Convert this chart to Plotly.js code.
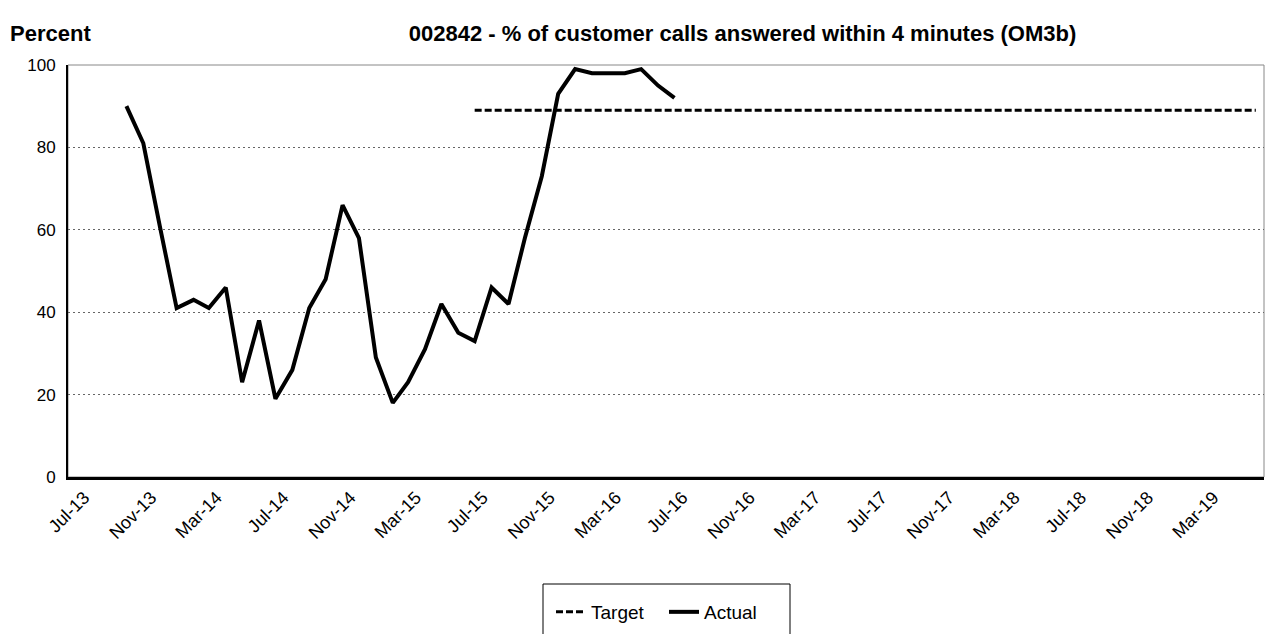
<!DOCTYPE html>
<html>
<head>
<meta charset="utf-8">
<script src="https://cdn.plot.ly/plotly-3.0.1.min.js"></script>
<style>
  html, body { margin: 0; padding: 0; background: #fff; }
  #chart { width: 1272px; height: 634px; }
</style>
</head>
<body>
<div id="chart"></div>
<script>
// ---- Data ----
const actualMonths = [
  '2013-10-01','2013-11-01','2013-12-01','2014-01-01','2014-02-01','2014-03-01',
  '2014-04-01','2014-05-01','2014-06-01','2014-07-01','2014-08-01','2014-09-01',
  '2014-10-01','2014-11-01','2014-12-01','2015-01-01','2015-02-01','2015-03-01',
  '2015-04-01','2015-05-01','2015-06-01','2015-07-01','2015-08-01','2015-09-01',
  '2015-10-01','2015-11-01','2015-12-01','2016-01-01','2016-02-01','2016-03-01',
  '2016-04-01','2016-05-01','2016-06-01','2016-07-01'
];
const actualValues = [
  90, 81, 61, 41, 43, 41,
  46, 23, 38, 19, 26, 41,
  48, 66, 58, 29, 18, 23,
  31, 42, 35, 33, 46, 42,
  58, 73, 93, 99, 98, 98,
  98, 99, 95, 92
];
const targetMonths = ['2015-07-01', '2019-06-01'];
const targetValues = [89, 89];

const chartTitle = '002842 - % of customer calls answered within 4 minutes (OM3b)';
const yLabel = 'Percent';

const FONT = 'Liberation Sans, Arial, sans-serif';

const traces = [
  {
    x: targetMonths, y: targetValues, name: 'Target', type: 'scatter', mode: 'lines',
    line: { color: '#000', width: 3, dash: '7px,3px' }
  },
  {
    x: actualMonths, y: actualValues, name: 'Actual', type: 'scatter', mode: 'lines',
    line: { color: '#000', width: 4 }
  }
];

const layout = {
  width: 1272, height: 634,
  margin: { l: 68, r: 8, t: 65, b: 157, autoexpand: false },
  paper_bgcolor: '#fff', plot_bgcolor: '#fff',
  font: { family: FONT, size: 18, color: '#000' },
  showlegend: true,
  title: {
    text: '<b>' + chartTitle + '</b>',
    font: { family: FONT, size: 22, color: '#000' },
    x: 0.564, xref: 'paper', xanchor: 'center',
    y: 1 - 33 / 634, yref: 'container', yanchor: 'middle'
  },
  annotations: [{
    text: '<b>' + yLabel + '</b>', xref: 'paper', yref: 'paper',
    x: -0.05, y: 1 + 32 / 412, xanchor: 'left', yanchor: 'middle',
    showarrow: false, font: { family: FONT, size: 22, color: '#000' }
  }],
  xaxis: {
    type: 'date',
    range: ['2013-06-16', '2019-06-16'],
    tick0: '2013-07-01', dtick: 'M4', tickformat: '%b-%y',
    tickangle: -45, ticks: '', showgrid: false, zeroline: false,
    showline: true, linecolor: '#000', linewidth: 3,
    ticklabelshift: 8,
    tickfont: { family: FONT, size: 18, color: '#000' }
  },
  yaxis: {
    range: [0, 100], dtick: 20, tick0: 0, ticks: '',
    showgrid: true, gridcolor: '#666', gridwidth: 1, griddash: '2px,3px',
    zeroline: false, showline: true, linecolor: '#000', linewidth: 2,
    tickfont: { family: FONT, size: 17, color: '#000' }, ticklabelstandoff: 7
  },
  shapes: [
    {
      type: 'rect', xref: 'paper', yref: 'paper', x0: 0, x1: 1, y0: 0, y1: 1,
      line: { color: '#888', width: 1 }, layer: 'below'
    },
    {
      type: 'rect', xref: 'paper', yref: 'paper',
      x0: (543 - 68) / 1196, x1: (790 - 68) / 1196,
      y0: -(584 - 477) / 412, y1: -(660 - 477) / 412,
      line: { color: '#000', width: 1 }, fillcolor: 'rgba(0,0,0,0)', layer: 'above'
    }
  ],
  legend: {
    orientation: 'h', x: (551 - 68) / 1196, xanchor: 'left',
    y: -(612 - 477) / 412, yanchor: 'middle',
    borderwidth: 0, bgcolor: 'rgba(0,0,0,0)',
    font: { family: FONT, size: 19, color: '#000' }, itemwidth: 30,
    entrywidth: 68, entrywidthmode: 'pixels'
  }
};

Plotly.newPlot('chart', traces, layout, { displayModeBar: false, staticPlot: true });
</script>
</body>
</html>
